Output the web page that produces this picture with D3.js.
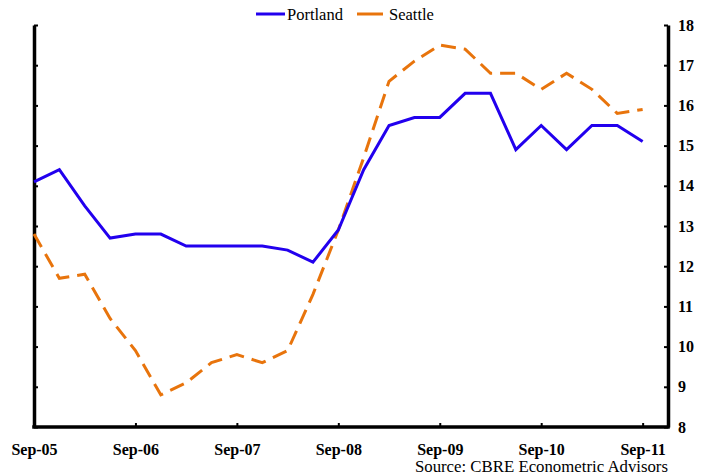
<!DOCTYPE html>
<html>
<head>
<meta charset="utf-8">
<script src="https://cdn.jsdelivr.net/npm/d3@7"></script>
<style>
  body { margin: 0; background: #fff; }
  svg { display: block; }
  .tick text { font-family: "Liberation Serif", "Times New Roman", serif; font-weight: bold; font-size: 16px; fill: #000; }
  .domain { stroke: #000; stroke-width: 3.5; }
  .tick line { stroke: #000; stroke-width: 2; }
</style>
</head>
<body>
<div id="chart"></div>
<script>
// quarterly, Sep-05 .. Sep-11
var quarters = d3.range(25)
var portland = [14.1, 14.4, 13.5, 12.7, 12.8, 12.8, 12.5, 12.5, 12.5, 12.5, 12.4, 12.1, 12.9,
    14.4, 15.5, 15.7, 15.7, 16.3, 16.3, 14.9, 15.5, 14.9, 15.5, 15.5, 15.1]
var seattle = [12.8, 11.7, 11.8, 10.7, 9.9, 8.8, 9.1, 9.6, 9.8, 9.6, 9.9, 11.3, 12.9,
    14.7, 16.6, 17.1, 17.5, 17.4, 16.8, 16.8, 16.4, 16.8, 16.4, 15.8, 15.9]
var xTickIdx = [0, 4, 8, 12, 16, 20, 24]
var xTickLabels = ["Sep-05", "Sep-06", "Sep-07", "Sep-08", "Sep-09", "Sep-10", "Sep-11"]
var yTicks = [8, 9, 10, 11, 12, 13, 14, 15, 16, 17, 18]

var width = 713, height = 476
var plotLeft = 34, plotRight = 668, plotTop = 25, plotBottom = 427

var svg = d3.select("#chart").append("svg")
    .attr("width", width)
    .attr("height", height)

var x = d3.scaleLinear().domain([0, 25]).range([plotLeft, plotRight])
var y = d3.scaleLinear().domain([8, 18]).range([plotBottom, plotTop])

// left axis, no labels, ticks inward
svg.append("g")
    .attr("transform", "translate(" + plotLeft + ",0)")
    .call(d3.axisRight(y).tickValues(yTicks).tickSize(4).tickSizeOuter(0).tickFormat(""))

// right axis with labels
var ra = svg.append("g")
    .attr("transform", "translate(" + plotRight + ",0)")
    .call(d3.axisRight(y).tickValues(yTicks).tickSize(0).tickSizeOuter(0).tickPadding(10).tickFormat(d3.format("d")))
ra.selectAll(".tick").append("line").attr("x2", -4)

// bottom axis
var ba = svg.append("g")
    .attr("transform", "translate(0," + plotBottom + ")")
    .call(d3.axisBottom(x).tickValues(xTickIdx).tickSize(0).tickSizeOuter(0).tickPadding(17)
        .tickFormat((d, i) => xTickLabels[i]))
ba.selectAll(".tick").filter((d) => d > 0 && d < 25).append("line").attr("y2", -4)
ba.select(".domain").attr("d", "M" + (plotLeft - 1.75) + ",0H" + (plotRight + 1.75))

var line = d3.line()
    .x((d, i) => x(quarters[i]))
    .y((d) => y(d))

svg.append("path")
    .datum(seattle)
    .attr("fill", "none")
    .attr("stroke", "#e8740c")
    .attr("stroke-width", 3)
    .attr("stroke-dasharray", "15,8")
    .attr("d", line)

svg.append("path")
    .datum(portland)
    .attr("fill", "none")
    .attr("stroke", "#2200ee")
    .attr("stroke-width", 3)
    .attr("d", line)

// legend
var legend = svg.append("g")
    .style("font-family", "'Liberation Serif', 'Times New Roman', serif")
    .style("font-size", "16.5px")
legend.append("line").attr("x1", 256).attr("x2", 285).attr("y1", 14).attr("y2", 14)
    .attr("stroke", "#2200ee").attr("stroke-width", 3)
legend.append("text").attr("x", 287).attr("y", 20).text("Portland")
legend.append("line").attr("x1", 357).attr("x2", 383).attr("y1", 14).attr("y2", 14)
    .attr("stroke", "#e8740c").attr("stroke-width", 3)
legend.append("text").attr("x", 389).attr("y", 20).text("Seattle")

svg.append("text")
    .attr("x", plotRight)
    .attr("y", 472)
    .attr("text-anchor", "end")
    .style("font-family", "'Liberation Serif', 'Times New Roman', serif")
    .style("font-size", "16.8px")
    .text("Source: CBRE Econometric Advisors")
</script>
</body>
</html>
